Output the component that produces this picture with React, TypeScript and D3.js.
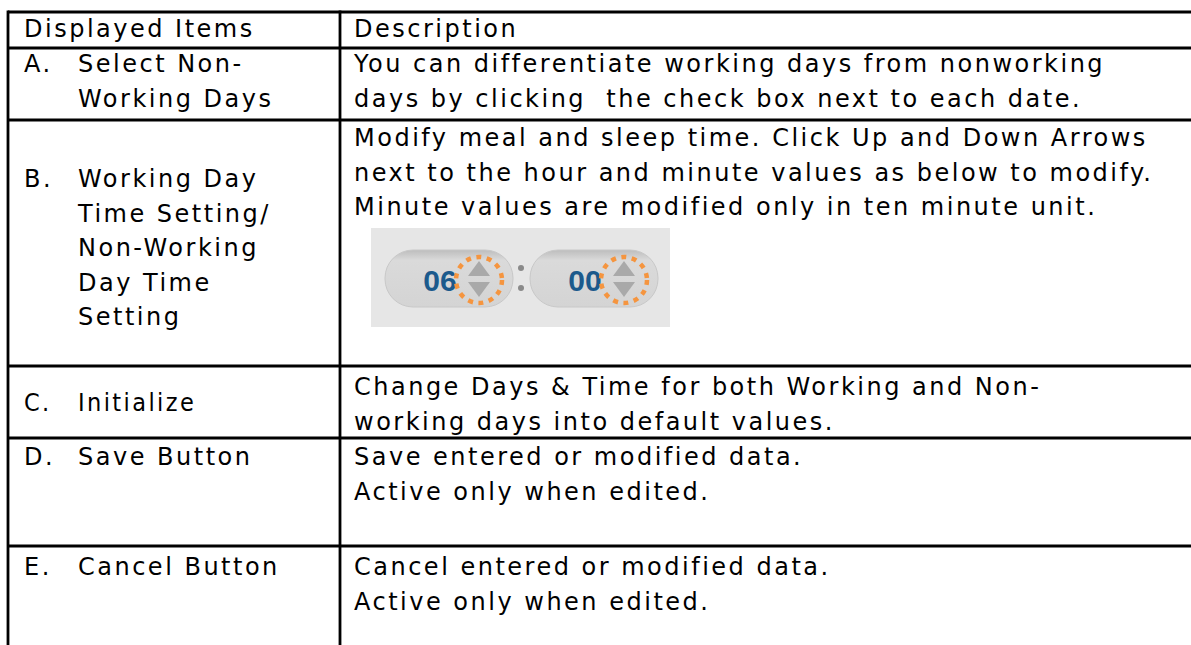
import React, { useEffect, useRef } from 'react';
import * as d3 from 'd3';

const W = 1191;
const H = 645;

// table content
const headers = ['Displayed Items', 'Description'];
const itemLetters = ['A.', 'B.', 'C.', 'D.', 'E.'];
const itemLabels = [
  ['Select Non-', 'Working Days'],
  ['Working Day', 'Time Setting/', 'Non-Working', 'Day Time', 'Setting'],
  ['Initialize'],
  ['Save Button'],
  ['Cancel Button'],
];
const descriptions = [
  ['You can differentiate working days from nonworking', 'days by clicking  the check box next to each date.'],
  [
    'Modify meal and sleep time. Click Up and Down Arrows',
    'next to the hour and minute values as below to modify.',
    'Minute values are modified only in ten minute unit.',
  ],
  ['Change Days & Time for both Working and Non-', 'working days into default values.'],
  ['Save entered or modified data.', 'Active only when edited.'],
  ['Cancel entered or modified data.', 'Active only when edited.'],
];
const timeValues = ['06', '00'];

// layout
const rowEdges = [12, 48, 120, 366, 438, 546];
const colX = 340;
const leftX = 8;
const lineH = 34.5;
const labelFirst = [72, 187, 411, 465, 575];
const descFirst = [72, 146, 395, 465, 575];
const condensedRow = 2;

const App: React.FC = () => {
  const svgRef = useRef<SVGSVGElement>(null);

  useEffect(() => {
    if (!svgRef.current) return;
    const svg = d3.select(svgRef.current);
    svg.selectAll('*').remove();

    const font = (sel: d3.Selection<SVGTextElement, any, any, any>) =>
      sel
        .attr('font-family', 'DejaVu Sans, sans-serif')
        .attr('font-size', 24)
        .attr('letter-spacing', 2.5)
        .attr('fill', '#000');

    // grid lines
    const grid = svg.append('g').attr('stroke', '#000').attr('stroke-width', 2.8);
    grid.selectAll('line.h')
      .data(rowEdges)
      .join('line')
      .attr('class', 'h')
      .attr('x1', leftX)
      .attr('x2', W)
      .attr('y1', d => d)
      .attr('y2', d => d);
    grid.selectAll('line.v')
      .data([leftX, colX])
      .join('line')
      .attr('class', 'v')
      .attr('x1', d => d)
      .attr('x2', d => d)
      .attr('y1', rowEdges[0] - 1.4)
      .attr('y2', H);

    // header
    svg.selectAll('text.head')
      .data(headers)
      .join('text')
      .attr('class', 'head')
      .attr('x', (d, i) => (i === 0 ? 24 : 354))
      .attr('y', 37)
      .text(d => d)
      .call(font);

    // item letters + labels
    itemLetters.forEach((letter, i) => {
      const narrow = i === condensedRow;
      const letterText = svg.append('text')
        .attr('x', 24)
        .attr('y', labelFirst[i])
        .text(letter)
        .call(font);
      const labels = svg.selectAll(`text.lab${i}`)
        .data(itemLabels[i])
        .join('text')
        .attr('class', `lab${i}`)
        .attr('x', 78)
        .attr('y', (d, j) => labelFirst[i] + j * lineH)
        .text(d => d)
        .call(font);
      if (narrow) {
        [letterText, labels].forEach((s: any) =>
          s.attr('font-family', 'DejaVu Sans Condensed, DejaVu Sans, sans-serif')
            .attr('font-stretch', 'condensed')
            .attr('font-size', 25)
            .attr('letter-spacing', 2.4)
        );
      }
      svg.selectAll(`text.desc${i}`)
        .data(descriptions[i])
        .join('text')
        .attr('class', `desc${i}`)
        .attr('x', 354)
        .attr('y', (d, j) => descFirst[i] + j * lineH)
        .attr('xml:space', 'preserve')
        .text(d => d)
        .call(font);
    });

    // time spinner screenshot
    const defs = svg.append('defs');
    const grad = defs.append('linearGradient')
      .attr('id', 'pill')
      .attr('x1', 0).attr('x2', 0).attr('y1', 0).attr('y2', 1);
    grad.append('stop').attr('offset', '0%').attr('stop-color', '#bdbdbd');
    grad.append('stop').attr('offset', '18%').attr('stop-color', '#dadada');
    grad.append('stop').attr('offset', '100%').attr('stop-color', '#d4d4d4');

    const shot = svg.append('g').attr('transform', 'translate(371,228)');
    shot.append('rect')
      .attr('width', 299)
      .attr('height', 99)
      .attr('fill', '#e6e6e6');

    const pillX = d3.scaleOrdinal<string, number>().domain(timeValues).range([14, 159]);
    const pill = shot.selectAll('g.pill')
      .data(timeValues)
      .join('g')
      .attr('class', 'pill')
      .attr('transform', d => `translate(${pillX(d)},22)`);

    pill.append('rect')
      .attr('width', 128)
      .attr('height', 57)
      .attr('rx', 28)
      .attr('fill', 'url(#pill)')
      .attr('stroke', '#c8c8c8');
    pill.append('text')
      .attr('x', 55)
      .attr('y', 41)
      .attr('text-anchor', 'middle')
      .attr('font-family', 'Liberation Sans, Arial, sans-serif')
      .attr('font-weight', 'bold')
      .attr('font-size', 30)
      .attr('fill', '#1c5a8c')
      .text(d => d);
    // up / down arrows
    pill.append('path')
      .attr('d', 'M83,26 L105,26 L94,11 Z')
      .attr('fill', '#a9a9a9');
    pill.append('path')
      .attr('d', 'M83,32 L105,32 L94,47 Z')
      .attr('fill', '#a9a9a9');
    pill.append('circle')
      .attr('cx', 94)
      .attr('cy', 30)
      .attr('r', 23)
      .attr('fill', 'none')
      .attr('stroke', '#f5953f')
      .attr('stroke-width', 4.5)
      .attr('stroke-dasharray', '5 5.5');

    // colon
    shot.selectAll('circle.colon')
      .data([40, 60])
      .join('circle')
      .attr('class', 'colon')
      .attr('cx', 150)
      .attr('cy', d => d)
      .attr('r', 3)
      .attr('fill', '#8a8a8a');
  }, []);

  return (
    <svg
      ref={svgRef}
      width={W}
      height={H}
      style={{ position: 'absolute', left: 0, top: 0, background: '#fff', display: 'block' }}
    />
  );
};

export default App;
